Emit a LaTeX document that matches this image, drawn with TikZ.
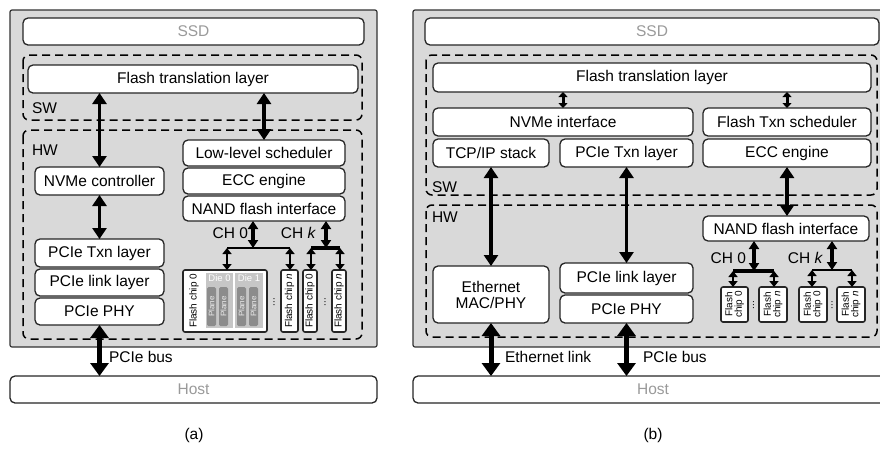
\documentclass[tikz,border=0pt]{standalone}
\usepackage{fontspec}
\setmainfont{Liberation Sans}
\usetikzlibrary{arrows.meta}
\definecolor{panelgray}{HTML}{D9D9D9}
\definecolor{hosttext}{HTML}{9A9A9A}
\definecolor{diegray}{HTML}{C6C6C6}
\definecolor{planegray}{HTML}{8C8C8C}
\newcommand\bx[7][]{\node[box,#1,minimum width={(#5-#3)*1pt},minimum height={(#6-#4)*1pt}] (#2) at ({(#3+#5)/2},{(#4+#6)/2}) {#7};}
\tikzset{
  bigtip/.tip={Triangle[length=13pt,width=18pt]},
  midtip/.tip={Triangle[length=11pt,width=14pt]},
  chtip/.tip={Triangle[length=8pt,width=10pt]},
  chiptip/.tip={Triangle[length=6pt,width=9pt]},
  smalltip/.tip={Triangle[length=5pt,width=9pt]},
  box/.style={draw=black!85,line width=1.3pt,rounded corners=5pt,fill=white,inner sep=0pt,outer sep=0pt,align=center},
  panel/.style={draw=black!80,line width=1.2pt,fill=panelgray,rounded corners=2pt},
  region/.style={draw=black,line width=1.5pt,dash pattern=on 8pt off 5pt,rounded corners=6pt},
  chipbox/.style={box,line width=1.6pt,rounded corners=2pt},
  lbl/.style={inner sep=0pt,outer sep=0pt},
  faint/.style={text=hosttext},
  barr/.style={line width=5pt,bigtip-bigtip},
  marr/.style={line width=3.8pt,midtip-midtip},
  sarr/.style={line width=3pt,smalltip-smalltip},
  charr/.style={line width=3.3pt,chtip-chtip},
  chiparr/.style={line width=2.8pt,chiptip-chiptip},
  chipfont/.style={lbl,font=\fontsize{10}{10}\selectfont},
  bchipfont/.style={lbl,font=\fontsize{10}{9.5}\selectfont,align=center},
}
\begin{document}
\begin{tikzpicture}[x=1pt,y=-1pt,font=\fontsize{15.5}{17}\selectfont]
\useasboundingbox (0,0) rectangle (880,448);

% ================= panel (a) =================
\bx[panel,rounded corners=2pt]{apanel}{10}{10}{377}{347}{}
\bx[faint]{assd}{23}{18}{364}{45}{SSD}
\draw[region] (23,55) rectangle (362,120);
\draw[region] (23,130) rectangle (362,339);
\bx{aftl}{28}{65}{358}{93}{Flash translation layer}
\node[lbl,anchor=west] (asw) at (32,108) {SW};
\node[lbl,anchor=west] (ahw) at (32,150) {HW};
\bx{anvme}{35}{167}{164}{195}{NVMe controller}
\bx{alls}{183}{140}{345}{166}{Low-level scheduler}
\bx{aecc}{183}{168}{345}{194}{ECC engine}
\bx{anand}{183}{196}{345}{221}{NAND flash interface}
\bx{aptxn}{35}{239}{164}{267}{PCIe Txn layer}
\bx{aplink}{35}{269}{164}{296}{PCIe link layer}
\bx{aphy}{35}{298}{164}{325}{PCIe PHY}
\bx[faint]{ahost}{10}{376}{377}{403}{Host}

% flash chips (a)
\bx[chipbox]{ac0}{183}{270}{267}{332}{}
\node[chipfont,rotate=90] (ac0t) at (194,301) {Flash chip 0};
\fill[diegray] (206,273) rectangle (233,328);
\fill[diegray] (235,273) rectangle (263,328);
\node[chipfont,text=white,font=\fontsize{9.5}{10}\selectfont] (ad0) at (219.5,278) {Die 0};
\node[chipfont,text=white,font=\fontsize{9.5}{10}\selectfont] (ad1) at (249,278) {Die 1};
\foreach \xa/\xb in {207/216,219/228,237/246,249/258}{
  \fill[planegray,rounded corners=1.5pt] (\xa,287) rectangle (\xb,326);
  \node[lbl,rotate=90,text=white!85!planegray,font=\fontsize{8}{8}\selectfont] at ({(\xa+\xb)/2},306.5) {Plane};
}
\node[lbl,rotate=90,font=\fontsize{10}{10}\selectfont] (adots1) at (274,302) {...};
\bx[chipbox]{acn}{281}{270}{298}{332}{}
\node[chipfont,rotate=90] (acnt) at (289.5,301) {Flash chip \textit{n}};
\bx[chipbox]{ak0}{303}{270}{317}{332}{}
\node[chipfont,rotate=90] (ak0t) at (310,301) {Flash chip 0};
\node[lbl,rotate=90,font=\fontsize{10}{10}\selectfont] (adots2) at (325,302) {...};
\bx[chipbox]{akn}{332}{270}{346}{332}{}
\node[chipfont,rotate=90] (aknt) at (339,301) {Flash chip \textit{n}};

% arrows (a)
\draw[marr] (aftl.south -| anvme.north) -- (anvme.north);
\draw[marr] (aftl.south -| alls.north) -- (alls.north);
\draw[marr] (anvme.south) -- (aptxn.north);
\draw[barr] (aphy.south) -- (aphy.south |- ahost.north);
\node[lbl,anchor=west] (apbus) at (109,357) {PCIe bus};

\coordinate (ac0j) at (253,248);
\coordinate (ac0l) at (227,248);
\coordinate (ac0r) at (290,248);
\draw[charr] (anand.south -| ac0j) -- (ac0j);
\draw[line width=2pt] (ac0l) -- (ac0r);
\draw[chiparr] (ac0l) -- (ac0l |- ac0.north);
\draw[chiparr] (ac0r) -- (ac0r |- acn.north);
\node[lbl,anchor=east] (ach0) at (248,233) {CH 0};

\coordinate (akj) at (326,248);
\coordinate (akl) at (311,248);
\coordinate (akr) at (340,248);
\draw[charr] (anand.south -| akj) -- (akj);
\draw[line width=3.5pt] (akl) -- (akr);
\draw[chiparr] (akl) -- (akl |- ak0.north);
\draw[chiparr] (akr) -- (akr |- akn.north);
\node[lbl,anchor=east] (achk) at (316,233) {CH \textit{k}};

\node[lbl] (acap) at (194,435) {(a)};

% ================= panel (b) =================
\bx[panel,rounded corners=2pt]{bpanel}{413}{10}{893}{347}{}
\bx[faint]{bssd}{425}{18}{879}{45}{SSD}
\draw[region] (426,55) rectangle (877,195);
\draw[region] (426,205) rectangle (877,337);
\bx{bftl}{433}{63}{871}{92}{Flash translation layer}
\bx{bnvme}{433}{108}{693}{136}{NVMe interface}
\bx{bfts}{703}{108}{871}{136}{Flash Txn scheduler}
\bx{btcp}{433}{139}{549}{167}{TCP/IP stack}
\bx{bptxn}{560}{139}{693}{167}{PCIe Txn layer}
\bx{becc}{703}{139}{871}{167}{ECC engine}
\node[lbl,anchor=west] (bsw) at (432,187) {SW};
\node[lbl,anchor=west] (bhw) at (432,217) {HW};
\bx{bnand}{703}{216}{869}{241}{NAND flash interface}
\bx{beth}{433}{266}{549}{323}{Ethernet\\[-1pt]MAC/PHY}
\bx{bplink}{560}{263}{693}{293}{PCIe link layer}
\bx{bphy}{560}{295}{693}{323}{PCIe PHY}
\bx[faint]{bhost}{413}{376}{893}{403}{Host}

% arrows (b)
\draw[sarr] (bftl.south -| bnvme.north) -- (bnvme.north);
\draw[sarr] (bftl.south -| bfts.north) -- (bfts.north);
\draw[marr] (btcp.south) -- (btcp.south |- beth.north);
\draw[marr] (bptxn.south) -- (bplink.north);
\draw[marr] (becc.south) -- (becc.south |- bnand.north);
\draw[barr] (beth.south) -- (beth.south |- bhost.north);
\draw[barr] (bphy.south) -- (bphy.south |- bhost.north);
\node[lbl,anchor=west] (belink) at (505,357) {Ethernet link};
\node[lbl,anchor=west] (bpbus) at (643,357) {PCIe bus};

% flash chips (b)
\bx[chipbox]{bc0}{721}{287}{748}{322}{}
\node[bchipfont,rotate=90] (bc0t) at (734.5,304.5) {Flash\\chip 0};
\node[lbl,rotate=90,font=\fontsize{10}{10}\selectfont] (bdots1) at (753.5,305) {...};
\bx[chipbox]{bcn}{759}{287}{787}{322}{}
\node[bchipfont,rotate=90] (bcnt) at (773,304.5) {Flash\\chip \textit{n}};
\bx[chipbox]{bk0}{799}{287}{827}{322}{}
\node[bchipfont,rotate=90] (bk0t) at (813,304.5) {Flash\\chip 0};
\node[lbl,rotate=90,font=\fontsize{10}{10}\selectfont] (bdots2) at (832,305) {...};
\bx[chipbox]{bkn}{837}{287}{865}{322}{}
\node[bchipfont,rotate=90] (bknt) at (851,304.5) {Flash\\chip \textit{n}};

\coordinate (bc0j) at (754,271);
\coordinate (bc0l) at (733,271);
\coordinate (bc0r) at (774,271);
\draw[charr] (bnand.south -| bc0j) -- (bc0j);
\draw[line width=3.5pt] (bc0l) -- (bc0r);
\draw[chiparr] (bc0l) -- (bc0l |- bc0.north);
\draw[chiparr] (bc0r) -- (bc0r |- bcn.north);
\node[lbl,anchor=east] (bch0) at (746,258) {CH 0};

\coordinate (bkj) at (832,270);
\coordinate (bkl) at (812,270);
\coordinate (bkr) at (852,270);
\draw[charr] (bnand.south -| bkj) -- (bkj);
\draw[line width=1.5pt] (bkl) -- (bkr);
\draw[chiparr] (bkl) -- (bkl |- bk0.north);
\draw[chiparr] (bkr) -- (bkr |- bkn.north);
\node[lbl,anchor=east] (bchk) at (823,258) {CH \textit{k}};

\node[lbl] (bcap) at (653,435) {(b)};
\end{tikzpicture}
\end{document}
